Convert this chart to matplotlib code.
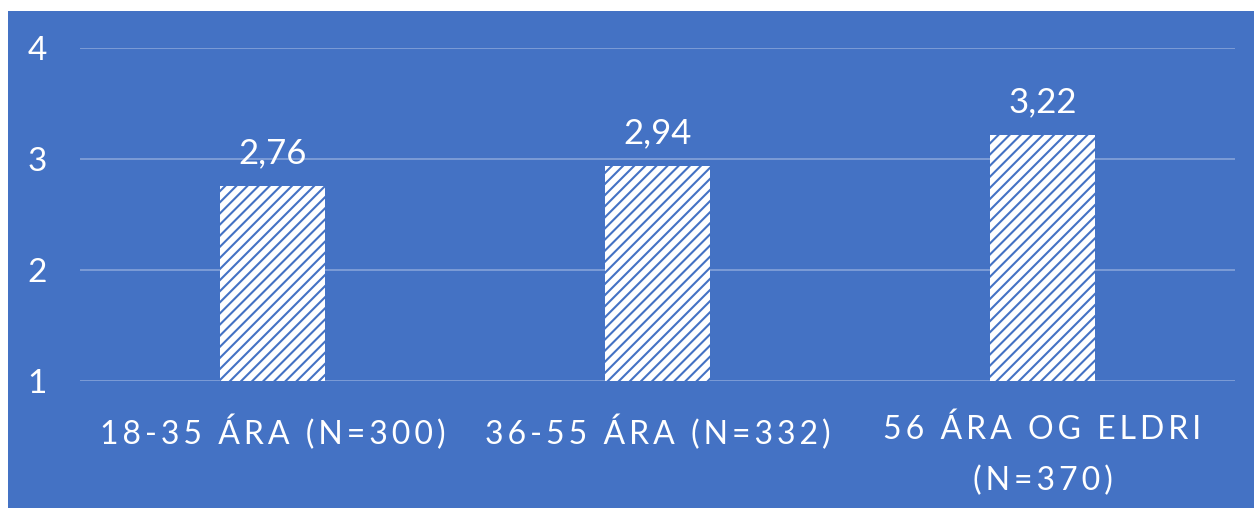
import matplotlib
matplotlib.use("Agg")
import matplotlib.pyplot as plt
from matplotlib.patches import Rectangle

# data
categories = ["18-35 ÁRA (N=300)", "36-55 ÁRA (N=332)", "56 ÁRA OG ELDRI\n(N=370)"]
values = [2.76, 2.94, 3.22]
value_labels = ["2,76", "2,94", "3,22"]
yticks = [1, 2, 3, 4]

BLUE = "#4472C4"
FONT = ["Lato", "DejaVu Sans"]

plt.rcParams["hatch.linewidth"] = 1.5
plt.rcParams["hatch.color"] = BLUE


def spaced(s, gap="\u2009"):
    # fake the wide letter spacing of the axis labels
    return "\n".join(gap.join(line) for line in s.split("\n"))


W, H = 1254, 508
fig = plt.figure(figsize=(W / 100, H / 100), dpi=100, facecolor="white")
# blue chart area, white margin at left and top
fig.patches.append(Rectangle((8 / W, 0), 1 - 8 / W, 1 - 11 / H, transform=fig.transFigure,
                             facecolor=BLUE, edgecolor="none", zorder=0))

ax = fig.add_axes([80 / W, 1 - 381 / H, 1155 / W, 333 / H])
ax.set_zorder(5)
ax.set_facecolor("none")

x = range(len(values))
ax.bar(x, [v - 1 for v in values], bottom=1, width=0.273, facecolor="white",
       edgecolor=BLUE, hatch="///", linewidth=0, zorder=3)

for i, v in enumerate(values):
    ax.annotate(value_labels[i], (i, v), xytext=(0, 16), textcoords="offset points",
                ha="center", va="baseline", color="white", fontsize=25, family=FONT)

ax.set_xlim(-0.5, len(values) - 0.5)
ax.set_ylim(1, 4)
ax.set_yticks(yticks)
ax.set_yticklabels([str(t) for t in yticks], family=FONT, fontsize=24, color="white")
ax.set_xticks(list(x))
ax.set_xticklabels([spaced(c) for c in categories], family=FONT, fontsize=23,
                   color="white", linespacing=1.85)
ax.tick_params(axis="both", length=0)
ax.tick_params(axis="y", pad=38)
ax.tick_params(axis="x", pad=24)
for lbl in ax.get_yticklabels():
    lbl.set_horizontalalignment("left")

ax.grid(axis="y", color="white", alpha=0.35, linewidth=1.2, zorder=0)
for s in ax.spines.values():
    s.set_visible(False)

fig.savefig("out.png", dpi=100)
